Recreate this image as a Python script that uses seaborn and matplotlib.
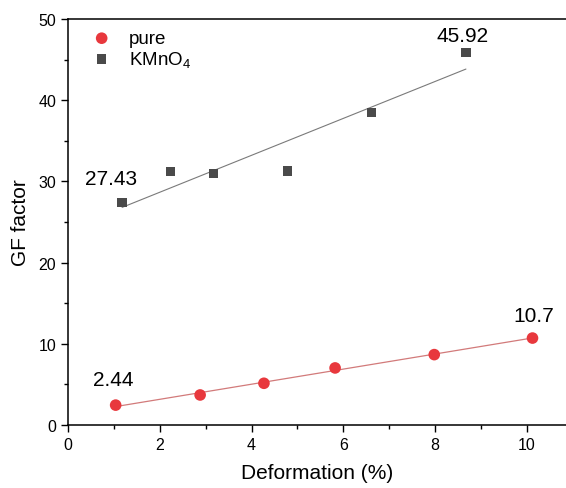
import numpy as np
import pandas as pd
import matplotlib
matplotlib.use("Agg")
import matplotlib.pyplot as plt
import seaborn as sns
from matplotlib.ticker import MultipleLocator

# Data
pure_x = [1.04, 2.88, 4.27, 5.82, 7.98, 10.12]
pure_y = [2.44, 3.69, 5.13, 7.02, 8.66, 10.7]
kmno4_x = [1.18, 2.24, 3.17, 4.79, 6.62, 8.67]
kmno4_y = [27.43, 31.2, 31.0, 31.3, 38.5, 45.92]

sns.set_style("ticks")
plt.rcParams['font.family'] = ['Liberation Sans', 'DejaVu Sans']
plt.rcParams['mathtext.default'] = 'regular'
plt.rcParams['text.color'] = 'black'
plt.rcParams['axes.labelcolor'] = 'black'
plt.rcParams['xtick.color'] = 'black'
plt.rcParams['ytick.color'] = 'black'

fig = plt.figure(figsize=(5.66, 4.89), dpi=100)
ax = fig.add_axes([0.120, 0.129, 0.880, 0.830])

red = '#E8383D'
grey = '#4A4A4A'

sns.regplot(x=pure_x, y=pure_y, ax=ax, ci=None, scatter=False,
            line_kws=dict(color='#D27A7A', lw=0.9))
sns.regplot(x=kmno4_x, y=kmno4_y, ax=ax, ci=None, scatter=False,
            line_kws=dict(color='#7A7A7A', lw=0.8))
sns.scatterplot(x=pure_x, y=pure_y, ax=ax, color=red, marker='o', s=70,
                edgecolor='none', label='pure', zorder=3)
sns.scatterplot(x=kmno4_x, y=kmno4_y, ax=ax, color=grey, marker='s', s=45,
                edgecolor='none', label='KMnO$_4$', zorder=3)

ax.text(0.95, 30.3, '27.43', fontsize=15, ha='center', va='center', color='black')
ax.text(8.6, 48.0, '45.92', fontsize=15, ha='center', va='center', color='black')
ax.text(0.98, 5.6, '2.44', fontsize=15, ha='center', va='center', color='black')
ax.text(10.15, 13.5, '10.7', fontsize=15, ha='center', va='center', color='black')

ax.set_xlim(0, 10.85)
ax.set_ylim(0, 50)
ax.xaxis.set_major_locator(MultipleLocator(2))
ax.xaxis.set_minor_locator(MultipleLocator(1))
ax.yaxis.set_major_locator(MultipleLocator(10))
ax.yaxis.set_minor_locator(MultipleLocator(5))
ax.tick_params(axis='both', which='major', direction='out', length=5, width=1,
               labelsize=11.5, colors='black')
ax.tick_params(axis='both', which='minor', direction='out', length=3, width=1,
               colors='black')
ax.spines['right'].set_visible(False)
for s in ['left', 'bottom', 'top']:
    ax.spines[s].set_linewidth(1.1)
    ax.spines[s].set_color('black')

ax.set_xlabel('Deformation (%)', fontsize=15, labelpad=8, color='black')
ax.set_ylabel('GF factor', fontsize=15, labelpad=6, color='black')

leg = ax.legend(loc='upper left', frameon=False, fontsize=13.5,
                bbox_to_anchor=(0.0, 1.01), handletextpad=0.45,
                borderaxespad=0.4, labelspacing=0.1)
for t in leg.get_texts():
    t.set_color('black')

fig.savefig('out.png', dpi=100)
